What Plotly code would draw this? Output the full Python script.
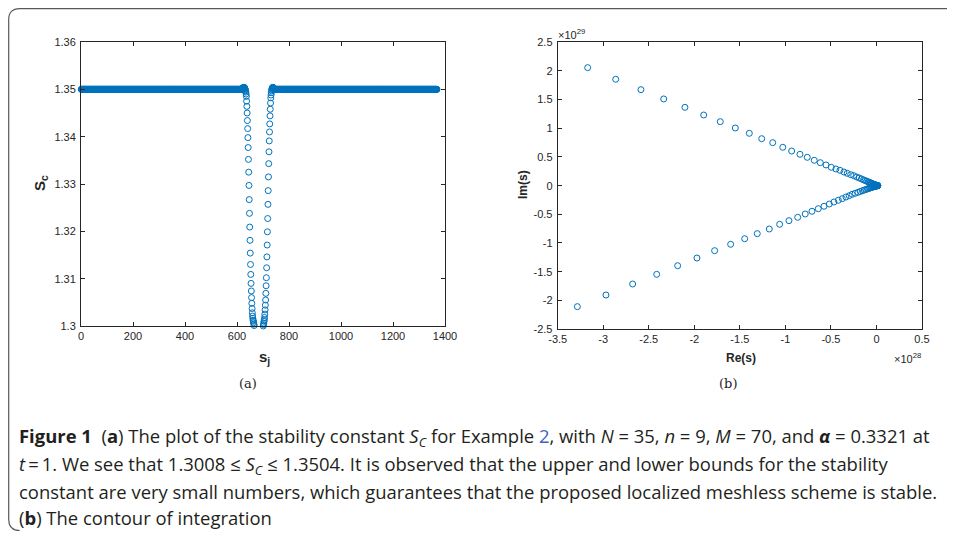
import plotly.graph_objects as go

# The page keeps the browser's default 8px body margin, so the figure is
# sized to fill the 955x539 window exactly inside that margin.
PAGE_W, PAGE_H, BODY_MARGIN = 955, 539, 8
W, H = PAGE_W - 2 * BODY_MARGIN, PAGE_H - 2 * BODY_MARGIN

# ---------------- data: panel (a) ----------------
n_nodes = 1369                 # s_j = 1 .. 1369
sc_flat = 1.3500               # plateau value of S_c
dip_first_index = 618          # first s_j of the dip region read below
sc_dip = [
    1.3500, 1.3501, 1.3501, 1.3502, 1.3502, 1.3503, 1.3503, 1.3504, 1.3504, 1.3504,
    1.3504, 1.3503, 1.3502, 1.3501, 1.3499, 1.3497, 1.3494, 1.3490, 1.3485, 1.3475,
    1.3464, 1.3450, 1.3434, 1.3417, 1.3398, 1.3377, 1.3352, 1.3325, 1.3297, 1.3267,
    1.3238, 1.3209, 1.3181, 1.3154, 1.3130, 1.3109, 1.3090, 1.3074, 1.3060, 1.3048,
    1.3037, 1.3028, 1.3021, 1.3016, 1.3012, 1.3010,
    1.3007, 1.3004, 1.3001, 1.2998, 1.2996, 1.2994, 1.2992, 1.2991, 1.2990, 1.2989,
    1.2988, 1.2988, 1.2988, 1.2988, 1.2988, 1.2988, 1.2988, 1.2988, 1.2988, 1.2988,
    1.2988, 1.2988, 1.2988, 1.2988, 1.2988, 1.2988, 1.2988, 1.2988, 1.2988, 1.2988,
    1.2988,
    1.2989, 1.2990, 1.2991, 1.2993, 1.2995, 1.2997, 1.3000, 1.3003, 1.3006, 1.3010,
    1.3013,
    1.3018, 1.3025, 1.3034, 1.3044, 1.3055, 1.3069, 1.3085, 1.3102, 1.3123, 1.3146,
    1.3171, 1.3199, 1.3227, 1.3257, 1.3286, 1.3315, 1.3343, 1.3368, 1.3391, 1.3410,
    1.3427, 1.3444, 1.3458, 1.3471, 1.3482, 1.3488,
    1.3493, 1.3497, 1.3500, 1.3502, 1.3503, 1.3504, 1.3504, 1.3504, 1.3503, 1.3502,
    1.3501, 1.3501, 1.3500,
]
sj_ticks = [0, 200, 400, 600, 800, 1000, 1200, 1400]
sc_ticks = [1.30, 1.31, 1.32, 1.33, 1.34, 1.35, 1.36]
sc_ticktext = ["1.3", "1.31", "1.32", "1.33", "1.34", "1.35", "1.36"]

# ---------------- data: panel (b) (Re in 1e28, Im in 1e29) ----------------
re_upper = [-3.171, -2.863, -2.586, -2.336, -2.103, -1.897, -1.715, -1.550, -1.396, -1.260,
            -1.139, -1.029, -0.931, -0.840, -0.760, -0.683, -0.617, -0.554, -0.496, -0.445,
            -0.401, -0.357, -0.321, -0.283, -0.250, -0.217, -0.189, -0.165, -0.143, -0.124,
            -0.107, -0.092, -0.079, -0.067, -0.057, -0.048, -0.040, -0.033, -0.027, -0.022,
            -0.017, -0.013, -0.010, -0.007, -0.004, -0.002, 0.000, 0.002, 0.004, 0.006,
            0.008, 0.010, 0.012, 0.014]
im_upper = [2.058, 1.855, 1.674, 1.512, 1.366, 1.232, 1.116, 1.006, 0.913, 0.819,
            0.750, 0.669, 0.604, 0.547, 0.494, 0.442, 0.401, 0.361, 0.320, 0.291,
            0.268, 0.238, 0.215, 0.191, 0.174, 0.151, 0.134, 0.117, 0.102, 0.089,
            0.077, 0.067, 0.058, 0.050, 0.043, 0.037, 0.031, 0.026, 0.022, 0.018,
            0.015, 0.012, 0.010, 0.008, 0.006, 0.005, 0.004, 0.003, 0.002, 0.0015,
            0.001, 0.0005, 0.0002, 0.000]
re_lower = [-3.284, -2.970, -2.677, -2.413, -2.183, -1.971, -1.777, -1.601, -1.447, -1.309,
            -1.177, -1.063, -0.961, -0.865, -0.782, -0.708, -0.639, -0.576, -0.518, -0.467,
            -0.419, -0.375, -0.335, -0.299, -0.266, -0.233, -0.203, -0.177, -0.154, -0.133,
            -0.115, -0.099, -0.085, -0.072, -0.061, -0.051, -0.042, -0.034, -0.027, -0.021,
            -0.016, -0.011, -0.007, -0.004, -0.001, 0.002, 0.005, 0.008, 0.011, 0.013,
            0.015]
im_lower = [-2.110, -1.907, -1.715, -1.547, -1.396, -1.262, -1.134, -1.023, -0.925, -0.837,
            -0.756, -0.674, -0.611, -0.552, -0.494, -0.447, -0.402, -0.360, -0.320, -0.285,
            -0.255, -0.227, -0.198, -0.175, -0.151, -0.133, -0.116, -0.101, -0.088, -0.076,
            -0.066, -0.057, -0.049, -0.042, -0.036, -0.030, -0.025, -0.021, -0.017, -0.014,
            -0.011, -0.009, -0.007, -0.005, -0.004, -0.003, -0.002, -0.0012, -0.0006, -0.0002,
            0.000]
re_ticks = [-3.5, -3, -2.5, -2, -1.5, -1, -0.5, 0, 0.5]
re_ticktext = ["-3.5", "-3", "-2.5", "-2", "-1.5", "-1", "-0.5", "0", "0.5"]
im_ticks = [-2.5, -2, -1.5, -1, -0.5, 0, 0.5, 1, 1.5, 2, 2.5]
im_ticktext = ["-2.5", "-2", "-1.5", "-1", "-0.5", "0", "0.5", "1", "1.5", "2", "2.5"]

caption_lines = [
    "<b>Figure 1</b>\u00a0\u00a0(<b>a</b>) The plot of the stability constant <i>S<sub>C</sub></i> for Example "
    "<span style='color:#3d64c4'>2</span>, with <i>N</i> = 35, <i>n</i> = 9, "
    "<i>M</i> = 70, and <b><i>α</i></b> = 0.3321 at",
    "<i>t</i>\u2009=\u20091. We see that 1.3008 ≤ <i>S<sub>C</sub></i> ≤ 1.3504. It is observed that the upper and lower bounds for the stability",
    "constant are very small numbers, which guarantees that the proposed localized meshless scheme is stable.",
    "(<b>b</b>) The contour of integration",
]

# ---------------- assemble series ----------------
sj = list(range(1, n_nodes + 1))
dip_last_index = dip_first_index + len(sc_dip) - 1
sc = [sc_flat] * (dip_first_index - 1) + sc_dip + [sc_flat] * (n_nodes - dip_last_index)

BLUE = "#0072BD"
AX = "#262626"
TICKFONT = dict(family="Liberation Sans, Arial, sans-serif", size=11, color=AX)


def px_x(p):
    """page pixel (x) -> paper fraction"""
    return (p - BODY_MARGIN) / W


def px_y(p):
    """page pixel (y, from top) -> paper fraction"""
    return 1 - (p - BODY_MARGIN) / H


fig = go.Figure()
fig.add_trace(go.Scatter(x=sj, y=sc, mode="markers", cliponaxis=False,
                         marker=dict(symbol="circle-open", size=6, color=BLUE, line=dict(width=1)),
                         xaxis="x", yaxis="y", showlegend=False))
fig.add_trace(go.Scatter(x=re_upper, y=im_upper, mode="markers", cliponaxis=False,
                         marker=dict(symbol="circle-open", size=6, color=BLUE, line=dict(width=1)),
                         xaxis="x2", yaxis="y2", showlegend=False))
fig.add_trace(go.Scatter(x=re_lower, y=im_lower, mode="markers", cliponaxis=False,
                         marker=dict(symbol="circle-open", size=6, color=BLUE, line=dict(width=1)),
                         xaxis="x2", yaxis="y2", showlegend=False))

axis_common = dict(showgrid=False, zeroline=False, showline=True, linecolor=AX, linewidth=1,
                   mirror="ticks", ticks="inside", ticklen=4, tickcolor=AX, tickwidth=1,
                   tickfont=TICKFONT, automargin=False)

fig.update_layout(
    width=W, height=H, margin=dict(l=0, r=0, t=0, b=0),
    paper_bgcolor="white", plot_bgcolor="white",
    xaxis=dict(domain=[px_x(81), px_x(445)], range=[0, 1400], tickvals=sj_ticks,
               anchor="y", **axis_common),
    yaxis=dict(domain=[px_y(326), px_y(42)], range=[1.30, 1.36], tickvals=sc_ticks,
               ticktext=sc_ticktext, anchor="x", ticklabelstandoff=2, **axis_common),
    xaxis2=dict(domain=[px_x(557.7), px_x(922)], range=[-3.5, 0.5], tickvals=re_ticks,
                ticktext=re_ticktext, anchor="y2", **axis_common),
    yaxis2=dict(domain=[px_y(329), px_y(42.3)], range=[-2.5, 2.5], tickvals=im_ticks,
                ticktext=im_ticktext, anchor="x2", ticklabelstandoff=2, **axis_common),
)

ann = []
TITLEFONT = dict(family="Liberation Sans, Arial, sans-serif", size=12, color=AX)
SYMFONT = dict(family="Liberation Sans, Arial, sans-serif", size=15, color=AX)
ann.append(dict(text="<b>s<sub>j</sub></b>", x=px_x(264), y=px_y(357), font=SYMFONT))
ann.append(dict(text="<b>S<sub>c</sub></b>", x=px_x(40), y=px_y(183), textangle=-90, font=SYMFONT))
ann.append(dict(text="<b>Re(s)</b>", x=px_x(741), y=px_y(358), font=TITLEFONT))
ann.append(dict(text="<b>Im(s)</b>", x=px_x(523), y=px_y(185), textangle=-90, font=TITLEFONT))
ann.append(dict(text="×10<sup>29</sup>", x=px_x(556), y=px_y(34), xanchor="left", font=TICKFONT))
ann.append(dict(text="×10<sup>28</sup>", x=px_x(923), y=px_y(358), xanchor="right", font=TICKFONT))
SERIF = dict(family="DejaVu Serif, serif", size=13, color="#222222")
ann.append(dict(text="(a)", x=px_x(248), y=px_y(383), font=SERIF))
ann.append(dict(text="(b)", x=px_x(728), y=px_y(383), font=SERIF))

CAPFONT = dict(family="Open Sans, sans-serif", size=18.45, color="#231f20")
for line, yp in zip(caption_lines, [437, 464.5, 491.5, 517]):
    ann.append(dict(text=line, x=px_x(17), y=px_y(yp), xanchor="left", font=CAPFONT))

for a in ann:
    a.setdefault("xanchor", "center")
    a.setdefault("yanchor", "middle")
    a.update(xref="paper", yref="paper", showarrow=False)
fig.update_layout(annotations=ann)

# rounded frame of the figure panel (top edge, left edge and the lower-left
# corner, which in the reference reaches the very bottom of the picture)
fl, ft, fb, fr, rad = 8.7, 8.7, 530.6, 960, 11
frame = (f"M {px_x(fr)},{px_y(ft)} L {px_x(fl + rad)},{px_y(ft)} "
         f"Q {px_x(fl)},{px_y(ft)} {px_x(fl)},{px_y(ft + rad)} "
         f"L {px_x(fl)},{px_y(fb - rad)} Q {px_x(fl)},{px_y(fb)} {px_x(fl + rad)},{px_y(fb)}")
fig.add_shape(type="path", path=frame, xref="paper", yref="paper",
              line=dict(color="#58595b", width=1.2))

fig.write_html("out.html", config={"displayModeBar": False})
